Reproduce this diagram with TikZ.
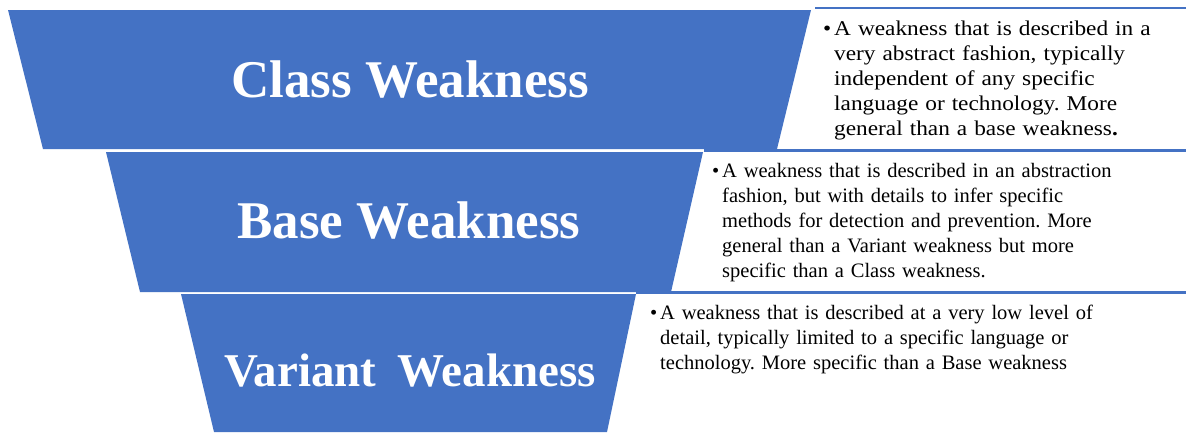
\documentclass[tikz,border=0pt]{standalone}
\usepackage{fontspec}
\setmainfont{Liberation Serif}
\newfontfamily\breitserif[FakeStretch=1.11]{Liberation Serif}
\usetikzlibrary{positioning}
\definecolor{trichter}{RGB}{68,114,196}
\tikzset{
    stufe/.style={fill=trichter, draw=none},
    titel/.style={text=white, anchor=base, inner sep=0pt, font=\bfseries\fontsize{53}{60}\selectfont},
    beschr/.style={anchor=base west, inner sep=0pt, text width=480pt, align=left, font=\fontsize{20.5}{25}\selectfont},
    balken/.style={trichter, line width=2.5pt}
}
\newcommand{\punkt}{\llap{\textbullet\kern3pt}}
\frenchspacing

\begin{document}
\begin{tikzpicture}[x=1pt, y=-1pt]

    \fill[white] (0,0) rectangle (1186,432);
    \useasboundingbox (0,0) rectangle (1186,432);

    % die drei Trichterstufen
    \fill[stufe] (8,10) -- (811,10) -- (777,149) -- (43,149) -- cycle;
    \fill[stufe] (106,152) -- (703,152) -- (671,292) -- (140,292) -- cycle;
    \fill[stufe] (181,294) -- (636,294) -- (607,432) -- (214,432) -- cycle;

    % Linien ueber den Beschreibungen
    \draw[balken] (815,8) -- (1186,8);
    \draw[balken] (704,150.5) -- (1186,150.5);
    \draw[balken] (636,292.5) -- (1186,292.5);

    \node[titel] (class) at (410,97) {Class Weakness};
    \node[titel] (base) at (409,238) {Base Weakness};
    \node[titel, font=\bfseries\fontsize{47}{55}\selectfont] (variant) at (410,386) {Variant\hspace{0.2em} Weakness};

    \node[beschr, font=\breitserif\fontsize{21}{25}\selectfont] (classtext) at (834,35)
        {\punkt A weakness that is described in a\\
        very abstract fashion, typically\\
        independent of any specific\\
        language or technology. More\\
        general than a base weakness\textbf{.}};
    \node[beschr] (basetext) at (722,177)
        {\punkt A weakness that is described in an abstraction\\
        fashion, but with details to infer specific\\
        methods for detection and prevention. More\\
        general than a Variant weakness but more\\
        specific than a Class weakness.};
    \node[beschr] (varianttext) at (660,319)
        {\punkt A weakness that is described at a very low level of\\
        detail, typically limited to a specific language or\\
        technology. More specific than a Base weakness};

\end{tikzpicture}
\end{document}
